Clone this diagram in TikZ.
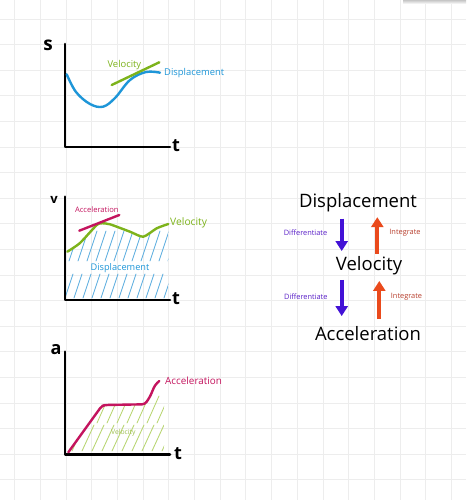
\documentclass[tikz,border=0pt]{standalone}
\usepackage{fontspec}
\setmainfont{Open Sans}
\usetikzlibrary{arrows.meta}
\definecolor{dispblue}{HTML}{1E96D8}
\definecolor{velgreen}{HTML}{7DB31B}
\definecolor{accred}{HTML}{C4145E}
\definecolor{hatchblue}{HTML}{62B0E0}
\definecolor{hatchgreen}{HTML}{B8D570}
\definecolor{lightvel}{HTML}{9DBE4E}
\definecolor{diffviolet}{HTML}{4312D6}
\definecolor{difftext}{HTML}{5A20C8}
\definecolor{intred}{HTML}{EA4A1C}
\definecolor{inttext}{HTML}{B8402F}
\definecolor{gridgray}{HTML}{EDEDED}

\begin{document}
\begin{tikzpicture}[x=1pt, y=-1pt,
    gridline/.style={gridgray, line width=0.9pt},
    axis/.style={line width=2.6pt, line cap=round, line join=round},
    curve/.style={line width=2.4pt, line cap=round, line join=round},
    hatch/.style={line width=0.85pt, line cap=round},
    axlabel/.style={font=\fontsize{15}{15}\selectfont\bfseries, inner sep=0pt},
    tag/.style={font=\fontsize{9.4}{10}\selectfont, inner sep=0pt},
    bigterm/.style={font=\fontsize{18.5}{20}\selectfont, inner sep=0pt},
    opname/.style={font=\fontsize{7.4}{8}\selectfont, inner sep=0pt},
    diffarrow/.style={diffviolet, line width=3.8pt, -{Triangle[width=12pt,length=10pt]}},
    intarrow/.style={intred, line width=3.8pt, -{Triangle[width=12pt,length=10pt]}}
]
\useasboundingbox (0,0) rectangle (466,500);
\fill[white] (0,0) rectangle (466,500);

% --- GRID ---
\foreach \i in {0,...,17} \draw[gridline] (14.6+25.7*\i,0) -- (14.6+25.7*\i,500);
\foreach \j in {0,...,18} \draw[gridline] (0,19+25.6*\j) -- (466,19+25.6*\j);
\fill[top color=gray!45, bottom color=white] (403,0) rectangle (466,4);

% --- S-T GRAPH ---
\draw[axis] (65,44) -- (65,147) -- (170,147);
\node[axlabel, font=\fontsize{19}{19}\selectfont\bfseries] (sname) at (48,45.5) {s};
\node[axlabel, font=\fontsize{18}{18}\selectfont\bfseries] (tone) at (176,145.5) {t};
\draw[curve, dispblue] plot[smooth, tension=0.6] coordinates
    {(66.7,74.3) (76,92) (90,104) (103,106.7) (115,98) (130,80) (146,72) (160,72.7)};
\draw[curve, velgreen] (111.7,85) -- (159.3,62.3);
\node[tag, velgreen] (sveltag) at (124.4,65) {Velocity};
\node[tag, dispblue, anchor=west] (sdisptag) at (164,73.3) {Displacement};

% --- V-T GRAPH ---
\begin{scope}
  \clip plot[smooth, tension=0.4] coordinates
    {(67.3,251.7) (80,243) (96.7,225) (101.7,223.3) (110,224.3) (130,231.7) (143.3,236.7) (156.7,228.3) (168.3,224)}
    -- (168.3,300) -- (66,300) -- cycle;
  \foreach \x in {60,69,...,170} {
    \draw[hatch, hatchblue] (\x,261) -- ++(10,-30);
    \draw[hatch, hatchblue] (\x-4,298) -- ++(8,-24);
  }
\end{scope}
\draw[axis] (65,196.7) -- (65,300) -- (170,300);
\node[axlabel, font=\fontsize{13}{13}\selectfont\bfseries] (vname) at (54,199.5) {v};
\node[axlabel, font=\fontsize{18}{18}\selectfont\bfseries] (ttwo) at (176,299) {t};
\draw[curve, velgreen] plot[smooth, tension=0.4] coordinates
    {(67.3,251.7) (80,243) (96.7,225) (101.7,223.3) (110,224.3) (130,231.7) (143.3,236.7) (156.7,228.3) (168.3,224)};
\draw[curve, accred] (79.3,230.7) -- (119.3,215);
\node[tag, accred, font=\fontsize{7.6}{8}\selectfont] (vacctag) at (96.8,209.3) {Acceleration};
\node[tag, velgreen, anchor=west, font=\fontsize{10.3}{11}\selectfont] (vveltag) at (170,223.3) {Velocity};
\node[tag, dispblue, font=\fontsize{9.2}{10}\selectfont] (vdisptag) at (120,267.7) {Displacement};

% --- A-T GRAPH ---
\begin{scope}
  \clip (66,454) -- (68.3,452.3) -- (101.7,406) -- (105,405) -- (145,404.3) -- (150,396.7)
    -- (155,385) -- (160,381) -- (164,381) -- (164,454) -- cycle;
  \foreach \x in {62,72,...,162} {
    \draw[hatch, hatchgreen] (\x,451) -- ++(12,-26);
    \draw[hatch, hatchgreen] (\x+5,423) -- ++(12,-27);
  }
\end{scope}
\draw[axis] (65,351.7) -- (65,454.5) -- (170,454.5);
\node[axlabel, font=\fontsize{18}{18}\selectfont\bfseries] (aname) at (56,349.5) {a};
\node[axlabel, font=\fontsize{18}{18}\selectfont\bfseries] (tthree) at (178,453.5) {t};
\draw[curve, accred, rounded corners=3pt] (68.3,452.3) -- (101.7,406) -- (105,405) -- (145,404.3)
    -- (150,396.7) -- (155,385) -- (159.3,381);
\node[tag, accred, anchor=west, font=\fontsize{9.9}{11}\selectfont] (aacctag) at (165,380.7) {Acceleration};
\node[tag, lightvel, font=\fontsize{6.8}{7}\selectfont] (aveltag) at (123.3,432.7) {Velocity};

% --- RELATIONS ---
\node[bigterm] (disp) at (358,202.7) {Displacement};
\node[bigterm] (vel) at (369,266) {Velocity};
\node[bigterm] (acc) at (368,333.4) {Acceleration};
\coordinate (dcol) at (341.7,0);
\coordinate (icol) at (377.3,0);
\coordinate (icoltwo) at (379.3,0);

\draw[diffarrow] ([yshift=-6.5pt]disp.south -| dcol) -- ([yshift=5.5pt]vel.north -| dcol);
\draw[intarrow] ([yshift=3pt]vel.north -| icol) -- ([yshift=-5pt]disp.south -| icol);
\draw[diffarrow] ([yshift=-4.5pt]vel.south -| dcol) -- ([yshift=10pt]acc.north -| dcol);
\draw[intarrow] ([yshift=7pt]acc.north -| icoltwo) -- ([yshift=-5.5pt]vel.south -| icoltwo);

\node[opname, difftext] (diffone) at (305.5,232.7) {Differentiate};
\node[opname, difftext] (difftwo) at (305.8,296.7) {Differentiate};
\node[opname, inttext] (intone) at (405,233) {Integrate};
\node[opname, inttext] (inttwo) at (406.5,296.7) {Integrate};

\end{tikzpicture}
\end{document}
